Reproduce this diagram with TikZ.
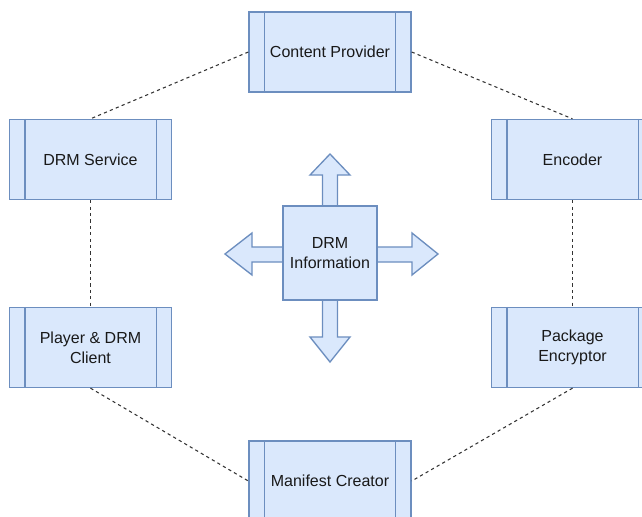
\documentclass[tikz,border=0pt]{standalone}
\usepackage{fontspec}
\setmainfont{Liberation Sans}
\definecolor{boxfill}{HTML}{DAE8FC}
\definecolor{boxline}{HTML}{6C8EBF}
\definecolor{linkgray}{HTML}{333333}
\tikzset{
  procbox/.style={draw=boxline, fill=boxfill, line width=1pt,
    minimum width=121.5pt, minimum height=60pt, inner sep=0pt,
    align=center, font=\fontsize{12}{15}\selectfont, text=black!90},
  infobox/.style={draw=boxline, fill=boxfill, line width=1pt,
    minimum width=70.5pt, minimum height=70.5pt, inner sep=0pt,
    align=center, font=\fontsize{12}{15}\selectfont, text=black!90},
  fatarrow/.style={draw=boxline, fill=boxfill, line width=1pt, line join=miter},
  link/.style={draw=linkgray, line width=0.8pt, dash pattern=on 2.4pt off 2.4pt}
}
\begin{document}
\begin{tikzpicture}[x=0.75pt, y=-0.75pt]
  \clip (0,0) rectangle (642,517);
  \useasboundingbox (0,0) rectangle (642,517);

  % four block arrows radiating from the centre block
  \coordinate (c) at (330,253);
  \draw[fatarrow] (322.5,253) -- (322.5,175) -- (310,175) -- (330,154)
        -- (350,175) -- (337.5,175) -- (337.5,253) -- cycle;
  \draw[fatarrow] (322.5,253) -- (322.5,337) -- (310,337) -- (330,362)
        -- (350,337) -- (337.5,337) -- (337.5,253) -- cycle;
  \draw[fatarrow] (330,247) -- (252,247) -- (252,233) -- (225,254)
        -- (252,275) -- (252,262) -- (330,262) -- cycle;
  \draw[fatarrow] (330,247) -- (412,247) -- (412,233) -- (438,254)
        -- (412,275) -- (412,262) -- (330,262) -- cycle;
  \node[infobox] (info) at (330,253) {DRM\\Information};

  % process blocks around the ring
  \node[procbox] (provider) at (330,52)    {Content Provider};
  \node[procbox] (service)  at (90.5,159.5) {DRM Service};
  \node[procbox] (encoder)  at (572.5,159.5) {Encoder};
  \node[procbox] (player)   at (90.5,347.5) {Player \& DRM\\Client};
  \node[procbox] (package)  at (572.5,347.5) {Package\\Encryptor};
  \node[procbox] (manifest) at (330,481)   {Manifest Creator};

  % inner side bars of each process block
  \foreach \n in {provider,service,encoder,player,package,manifest}{
    \draw[boxline, line width=1pt] ([xshift=12pt]\n.north west) -- ([xshift=12pt]\n.south west);
    \draw[boxline, line width=1pt] ([xshift=-12pt]\n.north east) -- ([xshift=-12pt]\n.south east);
  }

  % dashed ring connections
  \draw[link] (provider.west) -- (service.north);
  \draw[link] (provider.east) -- (encoder.north);
  \draw[link] (service.south) -- (player.north);
  \draw[link] (encoder.south) -- (package.north);
  \draw[link] (player.south) -- (manifest.west);
  \draw[link] (package.south) -- (manifest.east);
\end{tikzpicture}
\end{document}
